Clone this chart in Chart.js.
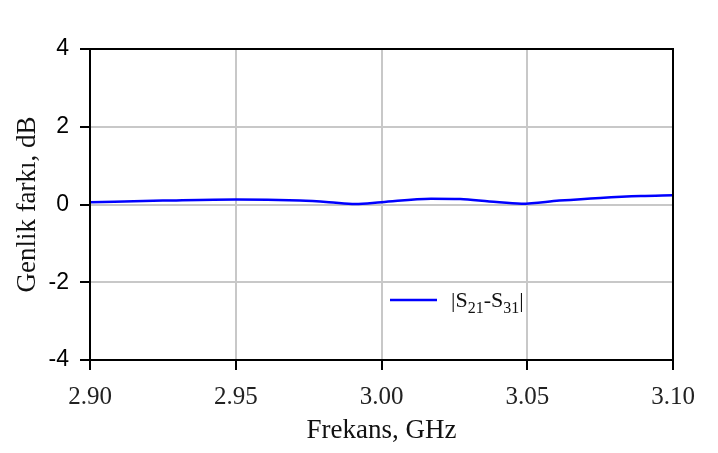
<!DOCTYPE html>
<html>
<head>
<meta charset="utf-8">
<script src="https://cdn.jsdelivr.net/npm/chart.js@4.4.0/dist/chart.umd.min.js"></script>
<style>
  html, body { margin: 0; padding: 0; background: #fff; }
  #wrap { width: 718px; height: 453px; }
</style>
</head>
<body>
<div id="wrap"><canvas id="diffChart" width="718" height="453"></canvas></div>
<script>
var freqs = [2.900, 2.925, 2.950, 2.972, 2.982, 2.991, 3.000, 3.017, 3.027, 3.037, 3.048, 3.061, 3.075, 3.089, 3.100];
var diffs = [0.06, 0.10, 0.13, 0.10, 0.06, 0.01, 0.06, 0.15, 0.14, 0.08, 0.02, 0.10, 0.17, 0.22, 0.24];
var xTicks = [2.90, 2.95, 3.00, 3.05, 3.10];
var yTicks = [-4, -2, 0, 2, 4];
var seriesName = ['|S', '21', '-S', '31', '|'];

var serif = "'Liberation Serif', 'DejaVu Serif', serif";
var sans = "'Liberation Sans', Arial, sans-serif";

var points = freqs.map(function (f, i) { return { x: f, y: diffs[i] }; });

// black frame round the plot + legend with subscripts
var framePlugin = {
  id: 'frame',
  afterDraw: function (chart) {
    var ctx = chart.ctx;
    var a = chart.chartArea;
    ctx.save();
    ctx.strokeStyle = '#000';
    ctx.lineWidth = 2;
    ctx.strokeRect(a.left, a.top, a.right - a.left, a.bottom - a.top);

    var ly = 300;
    ctx.strokeStyle = '#0000ff';
    ctx.lineWidth = 2.5;
    ctx.beginPath();
    ctx.moveTo(390, ly);
    ctx.lineTo(437, ly);
    ctx.stroke();

    ctx.fillStyle = '#111';
    ctx.textBaseline = 'alphabetic';
    var x = 451;
    seriesName.forEach(function (part, i) {
      var sub = (i === 1 || i === 3);
      ctx.font = (sub ? '16px ' : '22px ') + serif;
      ctx.fillText(part, x, sub ? ly + 13 : ly + 7);
      x += ctx.measureText(part).width;
    });
    ctx.restore();
  }
};

var ctx = document.getElementById('diffChart');
var diffChart = new Chart(ctx, {
  type: 'line',
  data: {
    datasets: [{
      label: '|S21-S31|',
      data: points,
      borderColor: '#0000ff',
      borderWidth: 2.5,
      pointRadius: 0,
      fill: false,
      cubicInterpolationMode: 'monotone'
    }]
  },
  options: {
    responsive: false,
    animation: false,
    layout: { padding: { left: 0, right: 45, top: 49, bottom: 0 } },
    plugins: {
      legend: { display: false },
      tooltip: { enabled: false }
    },
    scales: {
      x: {
        type: 'linear',
        min: 2.9,
        max: 3.1,
        afterBuildTicks: function (scale) {
          scale.ticks = xTicks.map(function (v) { return { value: v }; });
        },
        afterFit: function (scale) { scale.height = 93; },
        grid: { color: '#c8c8c8', lineWidth: 2, tickColor: '#000', tickLength: 10 },
        border: { display: false },
        ticks: {
          color: '#222',
          font: { family: serif, size: 25 },
          padding: 12,
          maxRotation: 0,
          callback: function (v) { return Number(v).toFixed(2); }
        },
        title: {
          display: true,
          text: 'Frekans, GHz',
          color: '#111',
          font: { family: serif, size: 27 },
          padding: { top: 0, bottom: 6 }
        }
      },
      y: {
        min: -4,
        max: 4,
        afterBuildTicks: function (scale) {
          scale.ticks = yTicks.map(function (v) { return { value: v }; });
        },
        afterFit: function (scale) { scale.width = 90; },
        grid: { color: '#c8c8c8', lineWidth: 2, tickColor: '#000', tickLength: 10 },
        border: { display: false },
        ticks: {
          color: '#000',
          font: { family: sans, size: 23 },
          padding: 11
        },
        title: {
          display: true,
          text: 'Genlik farkı, dB',
          color: '#111',
          font: { family: serif, size: 27 },
          padding: { top: 12, bottom: 0 }
        }
      }
    }
  },
  plugins: [framePlugin]
});
</script>
</body>
</html>
